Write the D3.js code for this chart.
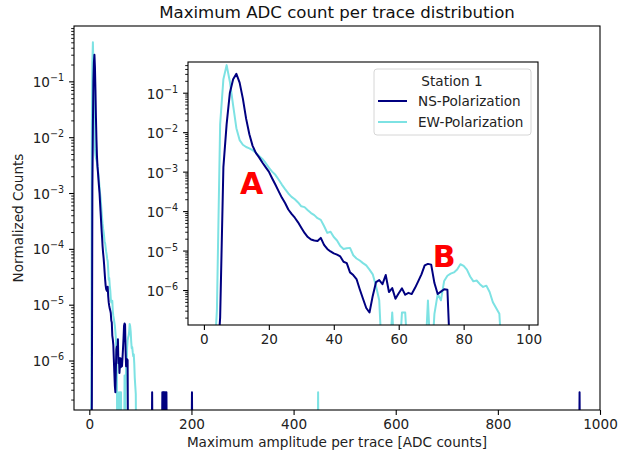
<!DOCTYPE html>
<html>
<head>
<meta charset="utf-8">
<script src="https://cdn.jsdelivr.net/npm/d3@7"></script>
<style>
  body { margin: 0; background: #fff; }
  text { font-family: "DejaVu Sans", sans-serif; }
</style>
</head>
<body>
<div id="chart"></div>
<script>
// histogram bins start here (1 ADC count per bin)
const firstBin = 3;

// NS-Polarization, normalized counts per bin (0 = empty bin)
const nsCounts = [
  0, 0, 2.0e-7, 1.3e-3, 1.6e-2, 0.10, 0.22, 0.30, 0.18, 0.071,
  0.022, 8.9e-3, 4.5e-3, 3.0e-3, 2.3e-3, 1.7e-3, 1.3e-3, 1.0e-3, 6.8e-4, 4.7e-4,
  3.2e-4, 2.2e-4, 1.6e-4, 1.1e-4, 8.5e-5, 6.8e-5, 5.2e-5, 3.8e-5, 2.8e-5, 2.2e-5,
  1.9e-5, 1.8e-5, 1.75e-5, 2.1e-5, 1.4e-5, 1.1e-5, 9.5e-6, 8.5e-6, 7.9e-6, 7.1e-6,
  5.2e-6, 4.8e-6, 2.8e-6, 2.4e-6, 1.9e-6, 1.05e-6, 6.0e-7, 3.5e-7, 2.7e-7, 7.1e-7,
  1.58e-6, 1.78e-6, 1.41e-6, 2.4e-6, 8.9e-7, 1.12e-6, 6.0e-7, 8.3e-7, 1.1e-6, 7.6e-7,
  8.5e-7, 7.9e-7, 1.12e-6, 1.66e-6, 2.5e-6, 4.2e-6, 4.6e-6, 4.4e-6, 1.5e-6, 7.9e-7,
  9.1e-7, 1.05e-6, 1.02e-6, 0, 0
];

// EW-Polarization, normalized counts per bin
const ewCounts = [
  0, 3.0e-7, 1.6e-2, 0.22, 0.50, 0.19, 0.048, 0.0126, 6.3e-3, 4.8e-3,
  4.2e-3, 3.9e-3, 3.5e-3, 3.0e-3, 2.5e-3, 2.1e-3, 1.66e-3, 1.26e-3, 1.0e-3, 8.3e-4,
  6.3e-4, 4.7e-4, 3.6e-4, 2.8e-4, 2.3e-4, 2.0e-4, 1.66e-4, 1.32e-4, 1.26e-4, 1.05e-4,
  8.9e-5, 7.9e-5, 6.6e-5, 6.0e-5, 4.2e-5, 2.8e-5, 3.0e-5, 2.2e-5, 1.8e-5, 1.3e-5,
  1.1e-5, 1.15e-5, 1.17e-5, 7.6e-6, 6.3e-6, 5.6e-6, 4.8e-6, 4.2e-6, 3.3e-6, 2.5e-6,
  1.26e-6, 5.5e-7, 0, 0, 0, 2.7e-7, 0, 0, 2.7e-7, 2.7e-7,
  0, 0, 0, 0, 0, 0, 5.4e-7, 0, 2.5e-7, 7.9e-7,
  5.5e-7, 1.7e-6, 2.3e-6, 2.6e-6, 2.8e-6, 3.3e-6, 4.5e-6, 4.1e-6, 3.3e-6, 2.2e-6,
  1.66e-6, 1.74e-6, 1.41e-6, 1.2e-6, 1.29e-6, 8.9e-7, 4.9e-7, 3.5e-7, 2.5e-7, 0,
  0
];

// isolated single-trace bins far out in the tail
const singleCount = 2.7e-7;
const nsOutlierBins = [123, 143, 145, 146, 147, 149, 151, 201, 960];
const ewOutlierBins = [448];

const mainXTicks = [0, 200, 400, 600, 800, 1000];
const insetXTicks = [0, 20, 40, 60, 80, 100];

const labels = [
  { text: "A", bin: 11.1, value: 2.7e-4 },
  { text: "B", bin: 70.5, value: 3.8e-6 }
];

const seriesInfo = [
  { name: "NS-Polarization", color: "#000080" },
  { name: "EW-Polarization", color: "#7de2e3" }
];

// layout
const width = 630, height = 453;
const mainBox = { left: 74, right: 600, top: 26, bottom: 410 };
const insetBox = { left: 188, right: 538, top: 62, bottom: 325 };
const floorValue = 1e-8; // empty bins drawn far below the axes
const fontSize = 13.6;

const svg = d3.select("#chart").append("svg")
  .attr("width", width).attr("height", height);

function buildSeries(counts, outliers) {
  const pts = counts.map((v, i) => [firstBin + i, v]);
  outliers.forEach((b) => {
    pts.push([b - 1, 0], [b, singleCount], [b + 1, 0]);
  });
  return pts.sort((a, b) => a[0] - b[0]);
}

const nsData = buildSeries(nsCounts, nsOutlierBins);
const ewData = buildSeries(ewCounts, ewOutlierBins);

function logTicks(domain) {
  const major = [], minor = [];
  for (let e = -9; e <= 1; e++) {
    const base = Math.pow(10, e);
    if (base >= domain[0] && base <= domain[1]) major.push({ v: base, e: e });
    for (let k = 2; k <= 9; k++) {
      const v = k * base;
      if (v >= domain[0] && v <= domain[1]) minor.push(v);
    }
  }
  return { major, minor };
}

function drawPanel(id, box, xDomain, yDomain, xTicks, labelDy) {
  const g = svg.append("g");
  const x = d3.scaleLinear().domain(xDomain).range([box.left, box.right]);
  const y = d3.scaleLog().domain(yDomain).range([box.bottom, box.top]);

  g.append("rect")
    .attr("x", box.left).attr("y", box.top)
    .attr("width", box.right - box.left).attr("height", box.bottom - box.top)
    .attr("fill", "#fff");

  g.append("clipPath").attr("id", id + "-clip")
    .append("rect")
    .attr("x", box.left).attr("y", box.top)
    .attr("width", box.right - box.left).attr("height", box.bottom - box.top);

  const line = d3.line()
    .x((d) => x(d[0]))
    .y((d) => y(Math.max(d[1], floorValue)));

  const lines = g.append("g").attr("clip-path", `url(#${id}-clip)`);
  // EW under NS
  [[ewData, seriesInfo[1]], [nsData, seriesInfo[0]]].forEach(([data, s]) => {
    lines.append("path")
      .datum(data)
      .attr("fill", "none")
      .attr("stroke", s.color)
      .attr("stroke-width", 2)
      .attr("stroke-linejoin", "round")
      .attr("d", line);
  });

  // x axis
  const xAxis = g.append("g")
    .attr("transform", `translate(0,${box.bottom})`)
    .call(d3.axisBottom(x).tickValues(xTicks).tickSize(4.9).tickPadding(4.9)
      .tickFormat(d3.format("d")));
  xAxis.select(".domain").remove();
  xAxis.selectAll("line").attr("stroke", "#000").attr("stroke-width", 1.1);
  xAxis.selectAll("text").attr("fill", "#222").style("font-size", fontSize + "px")
    .style("font-family", "DejaVu Sans");

  // y axis, log ticks
  const t = logTicks(yDomain);
  const yMinor = g.append("g")
    .attr("transform", `translate(${box.left},0)`)
    .call(d3.axisLeft(y).tickValues(t.minor).tickSize(2.8).tickFormat(""));
  const yMajor = g.append("g")
    .attr("transform", `translate(${box.left},0)`)
    .call(d3.axisLeft(y).tickValues(t.major.map((d) => d.v)).tickSize(4.9).tickFormat(""));
  [yMinor, yMajor].forEach((a) => {
    a.select(".domain").remove();
    a.selectAll("line").attr("stroke", "#000").attr("stroke-width", 0.9);
  });
  yMajor.selectAll("line").attr("stroke-width", 1.1);

  t.major.forEach((d) => {
    const txt = g.append("text")
      .attr("x", box.left - 9.8)
      .attr("y", y(d.v) + labelDy)
      .attr("text-anchor", "end")
      .attr("fill", "#222")
      .style("font-size", fontSize + "px");
    txt.append("tspan").text("10");
    txt.append("tspan")
      .attr("dy", -6)
      .style("font-size", "9.6px")
      .text("\u2212" + Math.abs(d.e));
  });

  // frame
  g.append("rect")
    .attr("x", box.left).attr("y", box.top)
    .attr("width", box.right - box.left).attr("height", box.bottom - box.top)
    .attr("fill", "none").attr("stroke", "#000").attr("stroke-width", 1.1);

  return { g, x, y };
}

// main axes
const mainPanel = drawPanel("main", mainBox, [-30, 1000], [1.3e-7, 0.98], mainXTicks, 5.5);

svg.append("text")
  .attr("x", (mainBox.left + mainBox.right) / 2).attr("y", 18.3)
  .attr("text-anchor", "middle").attr("fill", "#111")
  .style("font-size", "16.6px")
  .text("Maximum ADC count per trace distribution");

svg.append("text")
  .attr("x", (mainBox.left + mainBox.right) / 2).attr("y", 447)
  .attr("text-anchor", "middle").attr("fill", "#222")
  .style("font-size", fontSize + "px")
  .text("Maximum amplitude per trace [ADC counts]");

svg.append("text")
  .attr("transform", `translate(23,${(mainBox.top + mainBox.bottom) / 2}) rotate(-90)`)
  .attr("text-anchor", "middle").attr("fill", "#222")
  .style("font-size", fontSize + "px")
  .text("Normalized Counts");

// inset axes
const insetPanel = drawPanel("inset", insetBox, [-4.9, 102.9], [1.3e-7, 0.6], insetXTicks, 6);

insetPanel.g.selectAll(".label")
  .data(labels)
  .join("text")
  .attr("class", "label")
  .attr("x", (d) => insetPanel.x(d.bin))
  .attr("y", (d) => insetPanel.y(d.value))
  .attr("fill", "#ff0000")
  .style("font-size", "30px")
  .style("font-weight", "bold")
  .text((d) => d.text);

// legend
const legend = svg.append("g");
legend.append("rect")
  .attr("x", 374).attr("y", 69).attr("width", 157).attr("height", 66)
  .attr("rx", 3).attr("fill", "#fff").attr("fill-opacity", 0.8)
  .attr("stroke", "#d6d6d6").attr("stroke-width", 1);
legend.append("text")
  .attr("x", 452).attr("y", 85.5).attr("text-anchor", "middle")
  .attr("fill", "#222").style("font-size", fontSize + "px")
  .text("Station 1");
seriesInfo.forEach((s, i) => {
  const yy = 101 + i * 21;
  legend.append("line")
    .attr("x1", 378).attr("x2", 407).attr("y1", yy).attr("y2", yy)
    .attr("stroke", s.color).attr("stroke-width", 2);
  legend.append("text")
    .attr("x", 418).attr("y", yy + 5)
    .attr("fill", "#222").style("font-size", fontSize + "px")
    .text(s.name);
});
</script>
</body>
</html>
